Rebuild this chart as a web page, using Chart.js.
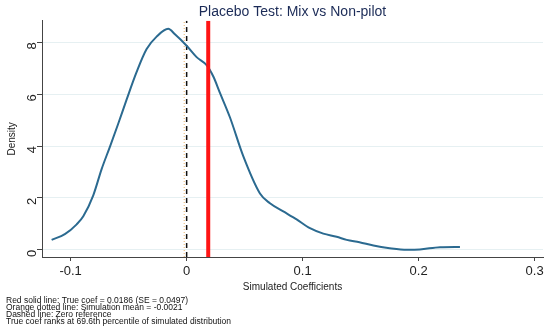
<!DOCTYPE html>
<html>
<head>
<meta charset="utf-8">
<script src="https://cdn.jsdelivr.net/npm/chart.js@4.4.1/dist/chart.umd.min.js"></script>
<style>
    html, body { margin: 0; padding: 0; background: #ffffff; }
    #wrap { width: 550px; height: 330px; position: relative; }
</style>
</head>
<body>
<div id="wrap"><canvas id="placeboChart"></canvas></div>
<script>
// Placebo test - density of simulated coefficients

const coefX = [-0.1164, -0.105, -0.0948, -0.0891, -0.0805, -0.0733, -0.0661, -0.059, -0.0517, -0.0431,
    -0.0345, -0.0259, -0.0159, -0.0101, 0, 0.0086, 0.0172, 0.023, 0.0287, 0.0373,
    0.0488, 0.0632, 0.0718, 0.0833, 0.0948, 0.1063, 0.1178, 0.1293, 0.138, 0.149,
    0.161, 0.175, 0.19, 0.201, 0.2184, 0.2356];
const densityY = [0.38, 0.60, 0.98, 1.29, 2.10, 3.11, 3.98, 4.86, 5.80, 6.86,
    7.74, 8.22, 8.52, 8.31, 7.87, 7.43, 7.12, 6.68, 6.05, 5.11,
    3.61, 2.17, 1.79, 1.48, 1.17, 0.83, 0.62, 0.50, 0.38, 0.29,
    0.16, 0.06, 0.0, 0.01, 0.10, 0.11];

const trueCoef = 0.0186;
const simMean = -0.0021;
const zeroRef = 0;

const xTicks = [-0.1, 0, 0.1, 0.2, 0.3];
const yTicks = [0, 2, 4, 6, 8];
const xRange = [-0.1247, 0.3072];
const yRange = [-0.28, 8.83];

const noteLines = [
    'Red solid line: True coef = 0.0186 (SE = 0.0497)',
    'Orange dotted line: Simulation mean = -0.0021',
    'Dashed line: Zero reference',
    'True coef ranks at 69.6th percentile of simulated distribution'
];

const FONT = 'Liberation Sans, Arial, sans-serif';

function vline(x) {
    return [{ x: x, y: yRange[0] }, { x: x, y: yRange[1] }];
}

// the note block under the graph
const notesPlugin = {
    id: 'notes',
    afterDraw(chart) {
        const c = chart.ctx;
        c.save();
        c.fillStyle = '#111111';
        c.font = '8.5px ' + FONT;
        c.textBaseline = 'middle';
        c.textAlign = 'left';
        noteLines.forEach(function(t, i) {
            c.fillText(t, 6, 301 + i * 6.9);
        });
        c.restore();
    }
};

new Chart(document.getElementById('placeboChart'), {
    type: 'scatter',
    data: {
        datasets: [{
            label: 'Density',
            data: coefX.map(function(x, i) { return { x: x, y: densityY[i] }; }),
            showLine: true,
            borderColor: '#2b6a90',
            borderWidth: 2,
            pointRadius: 0,
            cubicInterpolationMode: 'monotone',
            order: 2
        }, {
            label: 'Simulation mean',
            data: vline(simMean),
            showLine: true,
            borderColor: 'rgba(230, 160, 70, 0.8)',
            borderWidth: 1,
            borderDash: [1, 2],
            pointRadius: 0,
            order: 4
        }, {
            label: 'Zero',
            data: vline(zeroRef),
            showLine: true,
            borderColor: '#111111',
            borderWidth: 1.5,
            borderDash: [5, 4],
            pointRadius: 0,
            order: 3
        }, {
            label: 'True coef',
            data: vline(trueCoef),
            showLine: true,
            borderColor: '#ff1414',
            borderWidth: 4,
            pointRadius: 0,
            order: 1
        }]
    },
    options: {
        responsive: true,
        maintainAspectRatio: false,
        animation: false,
        layout: { padding: { left: 0, right: 7, top: 0, bottom: 38 } },
        plugins: {
            legend: { display: false },
            tooltip: { enabled: false },
            title: {
                display: true,
                text: 'Placebo Test: Mix vs Non-pilot',
                color: '#1b2b57',
                fullSize: false,
                font: { family: FONT, size: 14, weight: 'normal' },
                padding: { top: 4, bottom: 0 }
            }
        },
        scales: {
            x: {
                type: 'linear',
                min: xRange[0],
                max: xRange[1],
                afterBuildTicks: function(scale) {
                    scale.ticks = xTicks.map(function(v) { return { value: v }; });
                },
                ticks: {
                    color: '#222222',
                    font: { family: FONT, size: 13, lineHeight: 1 },
                    padding: 4,
                    maxRotation: 0,
                    callback: function(v) { return v === 0 ? '0' : String(v); }
                },
                grid: {
                    drawOnChartArea: false,
                    drawTicks: true,
                    tickLength: 4,
                    tickColor: '#444444'
                },
                border: { display: true, color: '#444444', width: 1 },
                title: {
                    display: true,
                    text: 'Simulated Coefficients',
                    color: '#222222',
                    font: { family: FONT, size: 10, lineHeight: 1 },
                    padding: { top: 0, bottom: 0 }
                }
            },
            y: {
                type: 'linear',
                min: yRange[0],
                max: yRange[1],
                afterBuildTicks: function(scale) {
                    scale.ticks = yTicks.map(function(v) { return { value: v }; });
                },
                afterFit: function(scale) { scale.width = 42; },
                ticks: {
                    color: '#222222',
                    font: { family: FONT, size: 13, lineHeight: 1 },
                    padding: 5,
                    minRotation: 90,
                    maxRotation: 90
                },
                grid: {
                    color: '#e6f0f2',
                    lineWidth: 1,
                    drawTicks: true,
                    tickLength: 5,
                    tickColor: '#444444'
                },
                border: { display: true, color: '#444444', width: 1 },
                title: {
                    display: true,
                    text: 'Density',
                    color: '#222222',
                    font: { family: FONT, size: 10, lineHeight: 1 },
                    padding: { top: 7, bottom: 0 }
                }
            }
        }
    },
    plugins: [notesPlugin]
});
</script>
</body>
</html>
